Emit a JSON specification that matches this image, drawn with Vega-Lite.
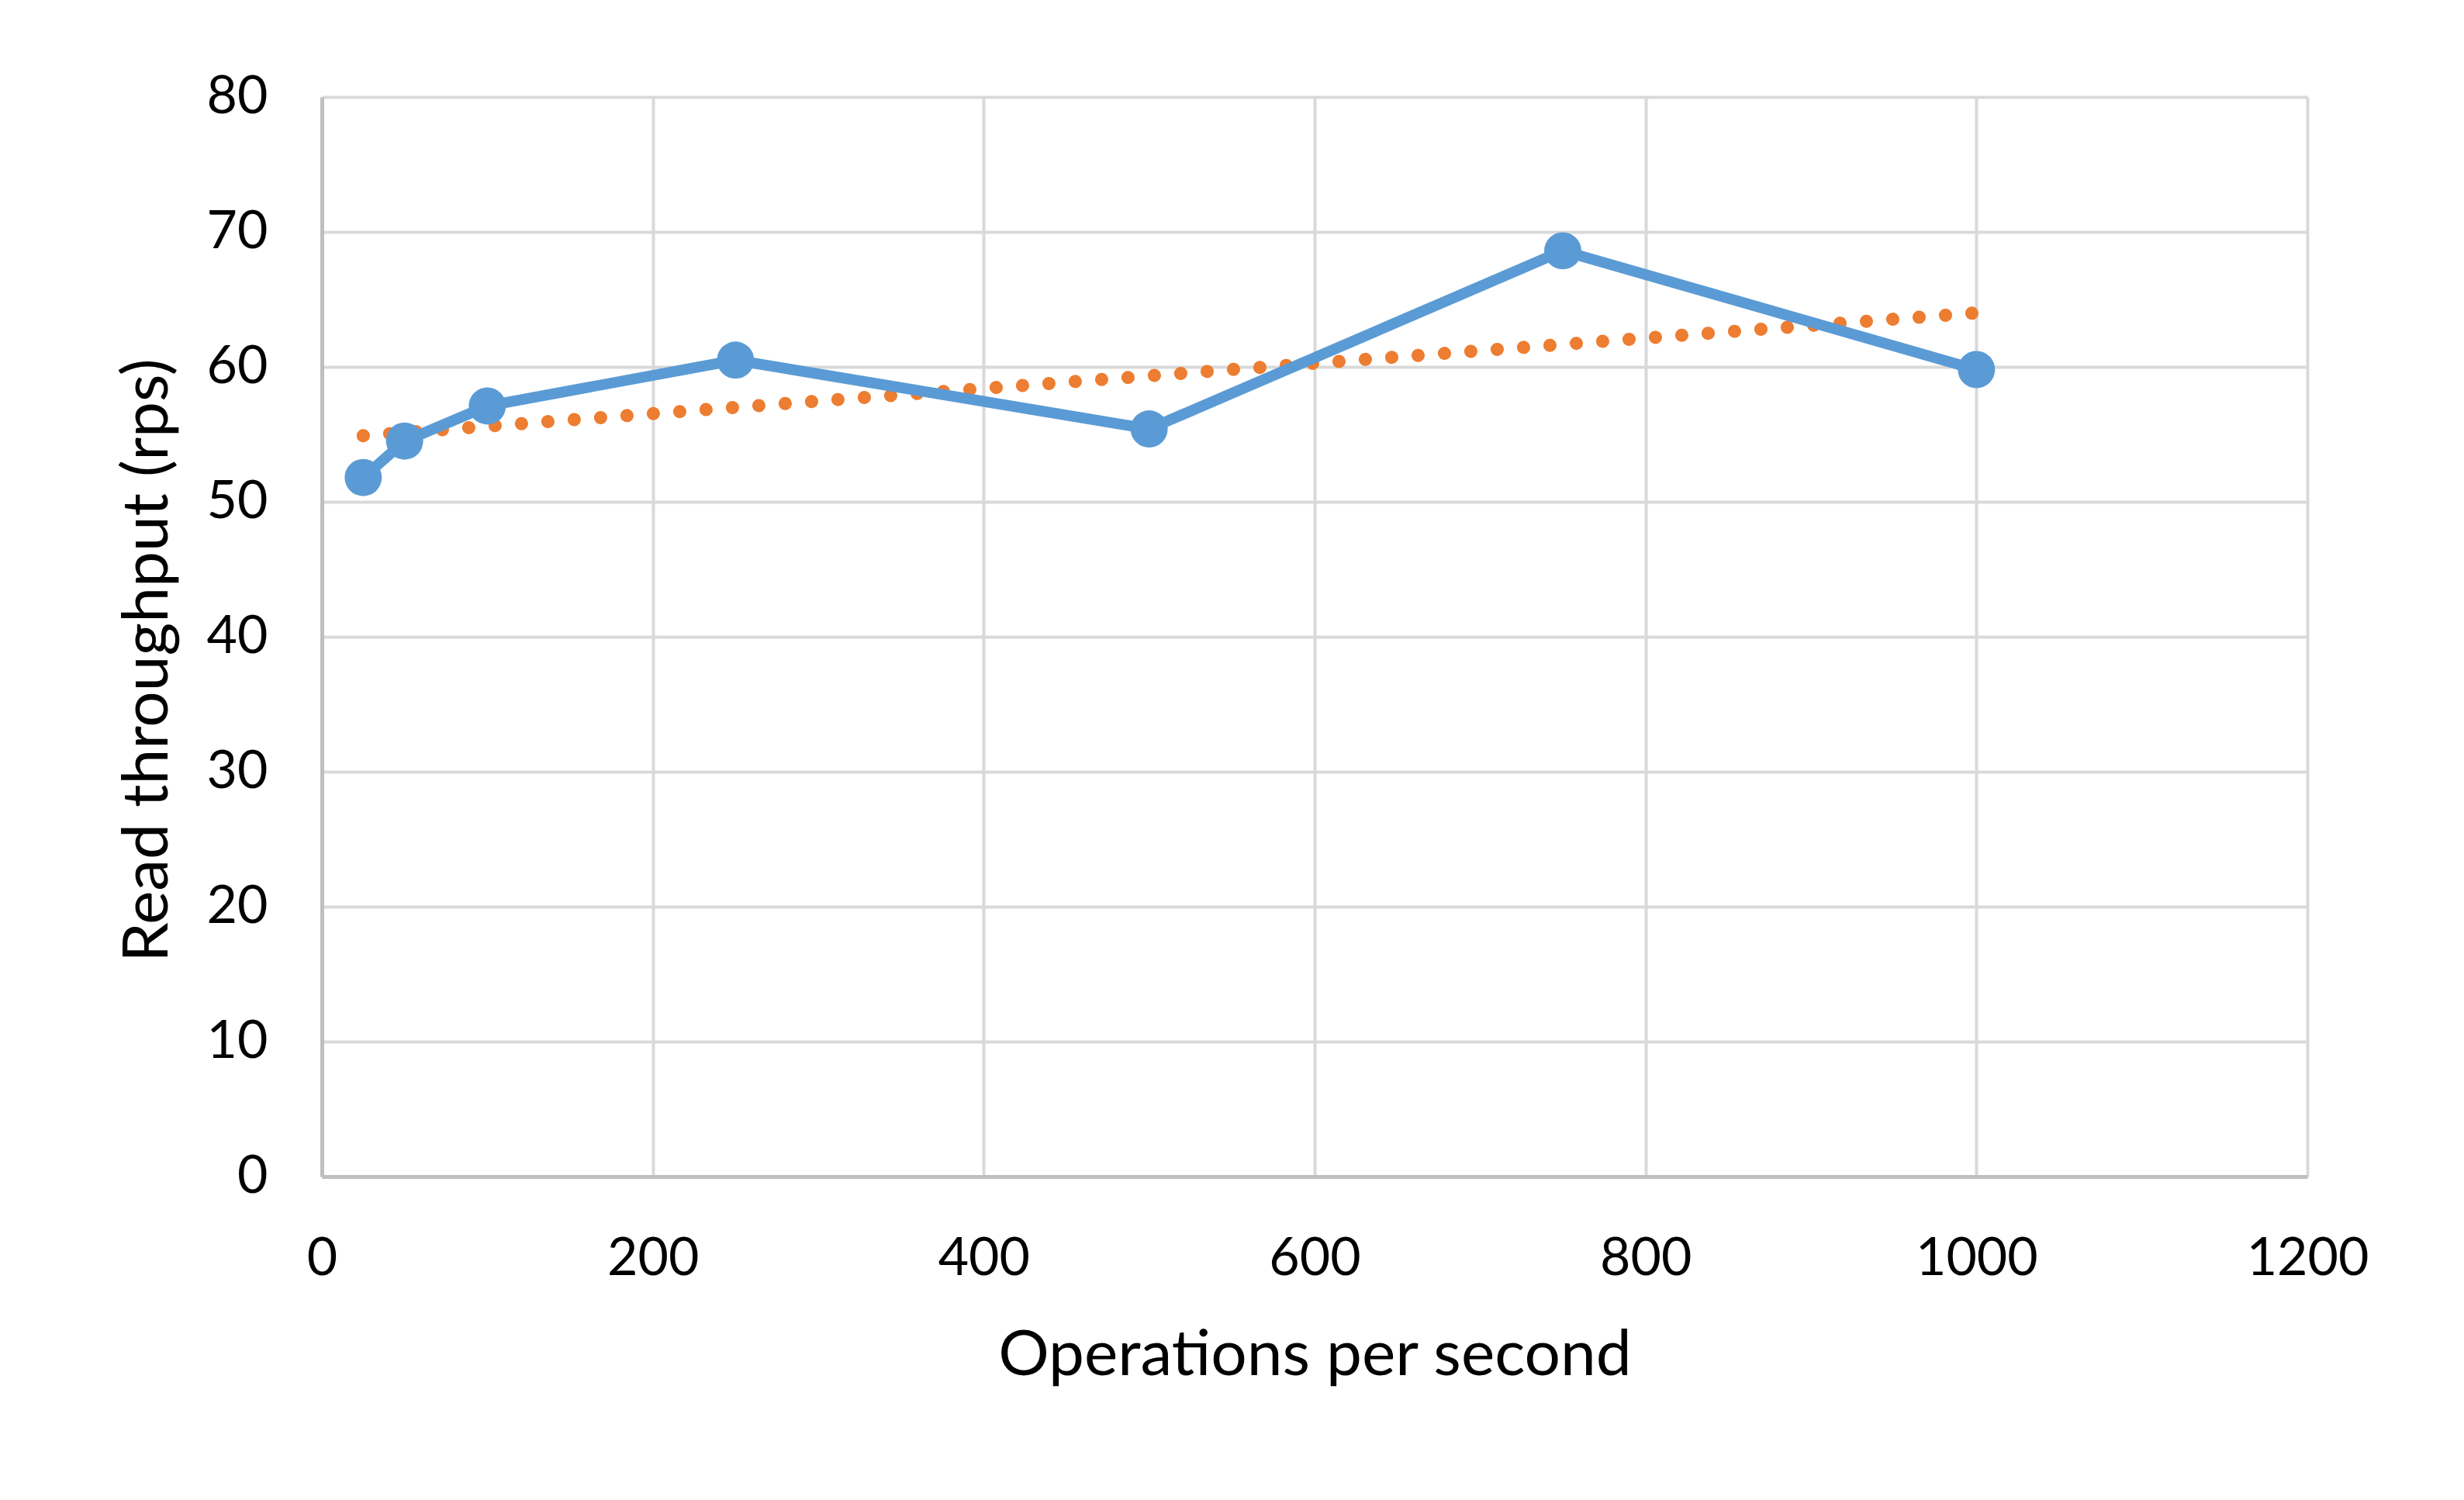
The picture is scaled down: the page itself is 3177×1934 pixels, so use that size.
{
  "$schema": "https://vega.github.io/schema/vega-lite/v6.json",
  "autosize": {"type": "none"},
  "padding": {"left": 415, "top": 125, "right": 202, "bottom": 417},
  "width": 2560,
  "height": 1392,
  "background": "white",
  "config": {
    "view": {"stroke": null},
    "font": "Lato",
    "axis": {
      "labelFont": "Lato",
      "titleFont": "Lato",
      "labelFontSize": 68,
      "titleFontSize": 82,
      "labelColor": "#000000",
      "titleColor": "#000000",
      "titleFontWeight": "normal",
      "labelFlush": false,
      "ticks": false,
      "gridColor": "#D9D9D9",
      "gridWidth": 4,
      "domainColor": "#BFBFBF",
      "domainWidth": 5
    }
  },
  "datasets": {
    "main": [
      {"ops": 25, "rps": 51.8},
      {"ops": 50, "rps": 54.5},
      {"ops": 100, "rps": 57.1},
      {"ops": 250, "rps": 60.5},
      {"ops": 500, "rps": 55.4},
      {"ops": 750, "rps": 68.6},
      {"ops": 1000, "rps": 59.8}
    ],
    "trend": [
      {"ops": 25, "rps": 54.9},
      {"ops": 1000, "rps": 64.0}
    ]
  },
  "layer": [
    {
      "data": {"name": "trend"},
      "mark": {"type": "line", "color": "#ED7D31", "strokeWidth": 17, "strokeCap": "round", "strokeDash": [0.1, 34]},
      "encoding": {
        "x": {"field": "ops", "type": "quantitative", "scale": {"domain": [0, 1200], "nice": false},
          "axis": {"values": [0, 200, 400, 600, 800, 1000, 1200], "format": "d", "title": "Operations per second", "labelPadding": 72, "titlePadding": 50}},
        "y": {"field": "rps", "type": "quantitative", "scale": {"domain": [0, 80], "nice": false},
          "axis": {"values": [0, 10, 20, 30, 40, 50, 60, 70, 80], "format": "d", "title": "Read throughput (rps)", "labelPadding": 70, "titlePadding": 34, "titleY": 726}}
      }
    },
    {
      "data": {"name": "main"},
      "mark": {"type": "line", "color": "#5B9BD5", "strokeWidth": 14, "point": {"filled": true, "size": 2300, "color": "#5B9BD5", "opacity": 1}},
      "encoding": {
        "x": {"field": "ops", "type": "quantitative"},
        "y": {"field": "rps", "type": "quantitative"}
      }
    }
  ]
}
